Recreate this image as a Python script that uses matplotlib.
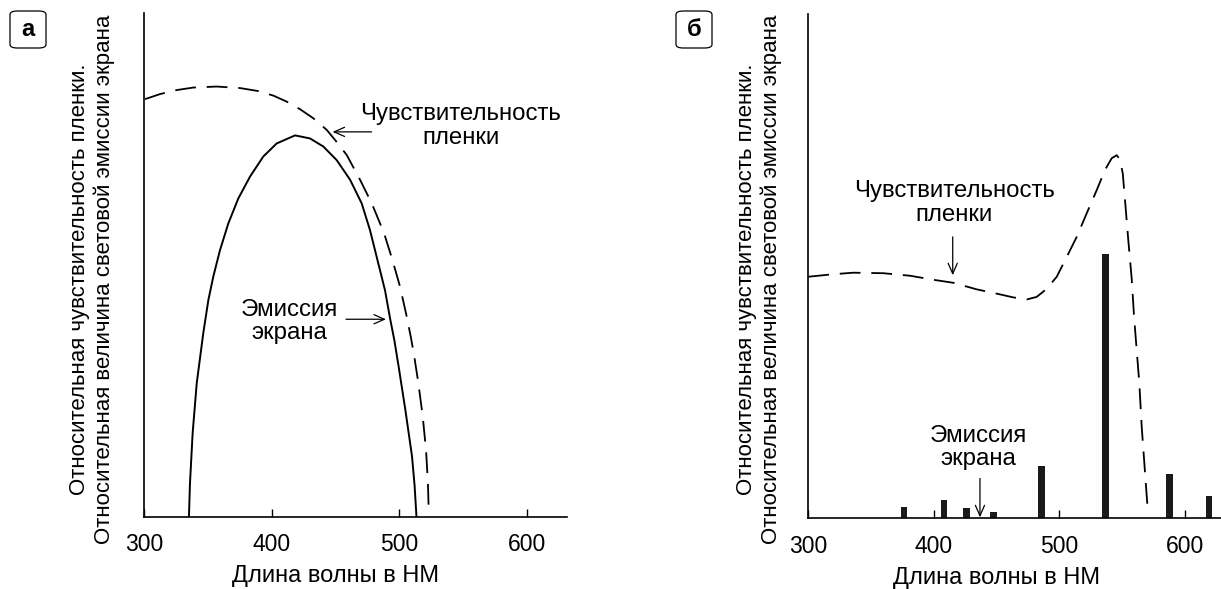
import matplotlib
matplotlib.use("Agg")
import matplotlib.pyplot as plt
from matplotlib.patches import FancyBboxPatch

plt.rcParams['font.family'] = ['Liberation Sans', 'DejaVu Sans']

# --- panel a: film sensitivity (dashed) and screen emission (solid) ---
a_film_nm = [300.8, 312.5, 325.6, 338.6, 356.9, 375.2, 389.5, 401.3, 411.8, 422.2,
             432.6, 443.1, 450.9, 458.8, 469.2, 478.4, 488.0, 494.3, 500.5, 505.8,
             509.1, 511.5, 514.9, 518.3, 520.9, 522.4, 523.0]
a_film_val = [82.9, 83.9, 84.7, 85.2, 85.4, 85.1, 84.5, 83.6, 82.4, 80.9,
              79.1, 76.8, 74.4, 71.8, 66.9, 62.2, 56.3, 51.2, 45.7, 39.7,
              35.5, 32.1, 26.5, 19.9, 13.2, 6.6, 1.0]

a_emis_nm = [335.2, 336.0, 338.1, 341.3, 346.4, 350.4, 354.3, 359.5, 366.0, 373.9,
             383.0, 393.4, 403.9, 418.3, 430.0, 440.4, 450.9, 461.4, 470.5, 477.0,
             483.5, 488.8, 492.7, 496.1, 499.5, 504.7, 509.9, 511.9, 513.4]
a_emis_val = [0.0, 6.6, 16.6, 26.5, 36.4, 43.0, 47.7, 52.9, 58.2, 63.2,
              67.5, 71.5, 74.1, 75.7, 75.1, 73.5, 70.8, 66.9, 62.2, 56.9,
              50.3, 44.9, 39.4, 35.0, 29.7, 21.2, 12.0, 6.3, 0.0]

# --- panel б: film sensitivity (dashed) and line emission (bars) ---
b_film_nm = [300.0, 319.9, 335.9, 359.8, 381.1, 399.6, 415.6, 434.2, 452.8, 463.4,
             474.1, 482.0, 490.0, 498.0, 505.9, 513.9, 521.9, 529.9, 536.5, 541.8,
             545.8, 548.4, 550.6, 552.4, 555.0, 557.8, 559.6, 561.7, 563.8, 565.7,
             568.4, 570.5]
b_film_val = [47.9, 48.4, 48.7, 48.6, 48.1, 47.3, 46.7, 45.4, 44.4, 43.8,
              43.4, 43.9, 45.5, 47.9, 51.8, 55.8, 60.5, 65.1, 69.1, 71.4,
              72.0, 71.1, 68.4, 63.1, 55.2, 47.3, 40.0, 33.4, 26.8, 18.2,
              8.9, 1.7]

b_lines_nm = [376.3, 408.2, 426.2, 447.8, 486.0, 537.0, 587.7, 619.4]
b_lines_val = [2.2, 3.6, 2.1, 1.2, 10.3, 52.5, 8.7, 4.4]

xticks = [300, 400, 500, 600]
xlabel = "Длина волны в НМ"
ylabel = "Относительная чувствительность пленки.\nОтносительная величина световой эмиссии экрана"
film_text = "Чувствительность\nпленки"
emis_text = "Эмиссия\nэкрана"

FS_TICK = 16.5
FS_XLAB = 17
FS_NOTE = 17.3
FS_YLAB = 16
dash = (0, (11.5, 6))


def style_axes(ax, xmax):
    ax.set_xlim(300, xmax)
    ax.set_ylim(0, 100)
    for s in ['top', 'right']:
        ax.spines[s].set_visible(False)
    for s in ['left', 'bottom']:
        ax.spines[s].set_linewidth(1.2)
    ax.set_xticks(xticks)
    ax.set_yticks([])
    ax.tick_params(axis='x', direction='in', length=5.5, width=1.0, pad=12, labelsize=FS_TICK)
    ax.set_xlabel(xlabel, fontsize=FS_XLAB)
    ax.xaxis.set_label_coords((450 - 300) / (xmax - 300), -0.096)
    ax.xaxis.label.set_va('top')


def arrow(ax, tip, tail):
    ax.annotate('', xy=tip, xytext=tail,
                arrowprops=dict(arrowstyle='->,head_length=0.5,head_width=0.22',
                                lw=0.9, color='black', shrinkA=0, shrinkB=0,
                                mutation_scale=15))


def label(ax, x, y, s):
    ax.text(x, y, s, fontsize=FS_NOTE, ha='center', va='center',
            multialignment='center', linespacing=1.08)


def panel_tag(fig, x0, letter):
    # x0, sizes in pixels
    W, H = 1221, 589
    box = FancyBboxPatch((x0 / W, 1 - 48 / H), 36 / W, 37 / H,
                         boxstyle='round,pad=0,rounding_size=0.006',
                         transform=fig.transFigure, fc='white', ec='black', lw=0.9)
    fig.patches.append(box)
    fig.text((x0 + 18) / W, 1 - 30 / H, letter, fontsize=17, fontweight='bold',
             ha='center', va='center')


fig = plt.figure(figsize=(12.21, 5.89), dpi=100)

# panel a
ax1 = fig.add_axes([144 / 1221, (589 - 516.7) / 589, 423 / 1221, 503.7 / 589])
ax1.plot(a_film_nm, a_film_val, color='black', lw=1.3, linestyle=dash)
ax1.plot(a_emis_nm, a_emis_val, color='black', lw=1.4)
style_axes(ax1, 631.3)
label(ax1, 548.3, 77.6, film_text)
arrow(ax1, (447.7, 76.4), (478.3, 76.4))
label(ax1, 413.6, 38.7, emis_text)
arrow(ax1, (489.5, 39.2), (458.2, 39.2))

# panel б
ax2 = fig.add_axes([808.3 / 1221, (589 - 518.3) / 589, (1221 - 808.3) / 1221, 504.3 / 589])
ax2.plot(b_film_nm, b_film_val, color='black', lw=1.3, linestyle=dash)
ax2.bar(b_lines_nm, b_lines_val, width=5.3, color='#1a1a1a')
style_axes(ax2, 628.9)
label(ax2, 416.3, 62.5, film_text)
arrow(ax2, (415.1, 48.2), (415.1, 55.8))
label(ax2, 435.5, 14.1, emis_text)
arrow(ax2, (436.8, 0.2), (436.8, 7.9))

fig.text(91.9 / 1221, (589 - 279) / 589, ylabel, fontsize=FS_YLAB, rotation=90,
         ha='center', va='center', multialignment='center')
fig.text(759 / 1221, (589 - 279) / 589, ylabel, fontsize=FS_YLAB, rotation=90,
         ha='center', va='center', multialignment='center')

panel_tag(fig, 10, "а")
panel_tag(fig, 676, "б")

plt.savefig("out.png", dpi=100)
